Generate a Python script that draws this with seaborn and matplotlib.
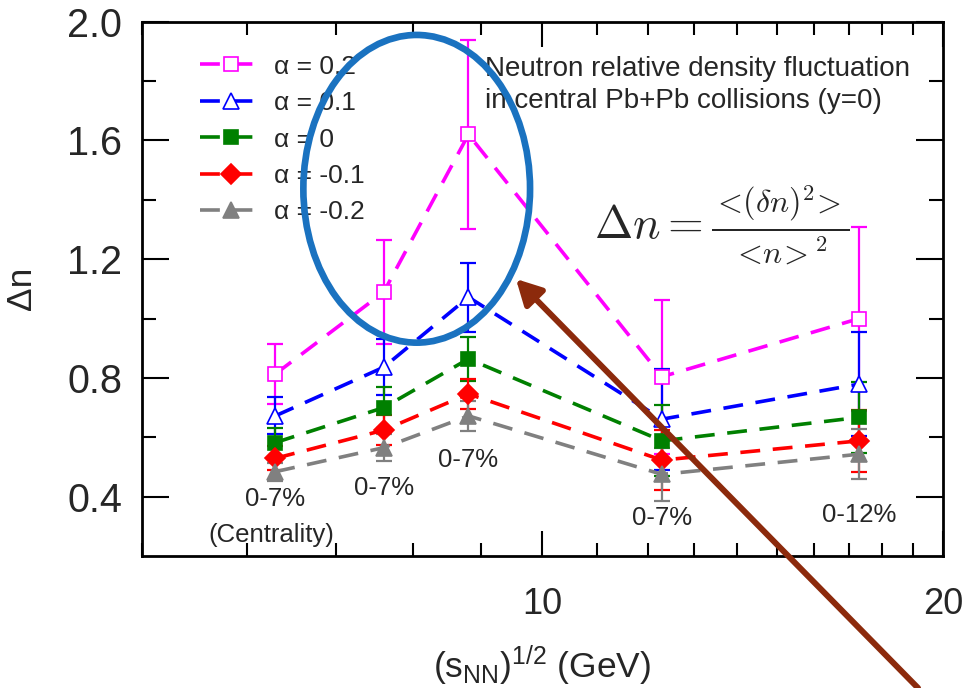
import matplotlib
matplotlib.use("Agg")
import matplotlib.pyplot as plt
import seaborn as sns
import numpy as np
import pandas as pd
from matplotlib.patches import Ellipse, FancyArrowPatch

# ---------------- data ----------------
energies = [6.3, 7.6, 8.8, 12.3, 17.3]          # sqrt(s_NN) in GeV
alpha_labels = ["α = 0.2", "α = 0.1", "α = 0", "α = -0.1", "α = -0.2"]
dn_a02 = [0.813, 1.089, 1.620, 0.804, 1.000]
dn_a01 = [0.672, 0.836, 1.072, 0.661, 0.779]
dn_a00 = [0.582, 0.700, 0.864, 0.588, 0.667]
dn_am01 = [0.529, 0.624, 0.746, 0.523, 0.588]
dn_am02 = [0.484, 0.565, 0.672, 0.475, 0.543]
err_a02 = [0.100, 0.175, 0.320, 0.260, 0.310]
err_a01 = [0.062, 0.095, 0.116, 0.170, 0.175]
err_a00 = [0.050, 0.068, 0.073, 0.120, 0.120]
err_am01 = [0.040, 0.050, 0.050, 0.102, 0.105]
err_am02 = [0.030, 0.045, 0.050, 0.090, 0.085]
centrality = ["0-7%", "0-7%", "0-7%", "0-7%", "0-12%"]
centrality_y = [0.392, 0.430, 0.523, 0.327, 0.338]
x_major = [10, 20]
x_minor = [5, 6, 7, 8, 9, 11, 12, 13, 14, 15, 16, 17, 18, 19]
y_major = [0.4, 0.8, 1.2, 1.6, 2.0]
y_minor = [0.6, 1.0, 1.4, 1.8]

series_vals = [dn_a02, dn_a01, dn_a00, dn_am01, dn_am02]
series_errs = [err_a02, err_a01, err_a00, err_am01, err_am02]
colors = ["#FF00FF", "#0000FF", "#008000", "#FF0000", "#808080"]
markers = ["s", "^", "s", "D", "^"]
faces = ["white", "white", "#008000", "#FF0000", "#808080"]
msizes = [10, 11, 10, 10, 11]

# ---------------- style ----------------
sns.set_theme(style="ticks")
plt.rcParams["font.family"] = ["Liberation Sans", "DejaVu Sans"]
plt.rcParams["mathtext.fontset"] = "custom"
plt.rcParams["mathtext.rm"] = "Liberation Sans"
plt.rcParams["mathtext.it"] = "Liberation Sans:italic"
plt.rcParams["mathtext.bf"] = "Liberation Sans:bold"

fig = plt.figure(figsize=(9.65, 6.88), dpi=100)
ax = fig.add_axes([141.7 / 965, 1 - 556 / 688, (943 - 141.7) / 965, (556 - 21.7) / 688])
ax.set_xscale("log")

for vals, errs, c, m, fc, ms, lab in zip(series_vals, series_errs, colors, markers,
                                          faces, msizes, alpha_labels):
    ax.errorbar(energies, vals, yerr=errs, fmt="none", ecolor=c, elinewidth=1.6,
                capsize=5.5, capthick=1.6, zorder=2)
    df = pd.DataFrame({"E": energies, "dn": vals})
    sns.lineplot(data=df, x="E", y="dn", ax=ax, color=c, linestyle=(0, (5.5, 3.5)),
                 linewidth=2.6, marker=m, markersize=ms, markerfacecolor=fc,
                 markeredgecolor=c, markeredgewidth=1.2, label=lab, zorder=3)

ax.set_xlim(5, 20)
ax.set_ylim(0.2, 2.0)
ax.set_xticks(x_major)
ax.set_xticklabels([str(v) for v in x_major])
ax.set_xticks(x_minor, minor=True)
ax.set_xticklabels([], minor=True)
ax.set_yticks(y_major)
ax.set_yticklabels([f"{v:.1f}" for v in y_major])
ax.set_yticks(y_minor, minor=True)

ax.tick_params(which="both", direction="in", top=True, right=True, width=1.5,
               color="black")
ax.tick_params(axis="x", which="major", length=18, pad=22, labelsize=26)
ax.tick_params(axis="x", which="minor", length=9.5)
ax.tick_params(axis="y", which="major", length=19.5, pad=14, labelsize=28.5)
ax.tick_params(axis="y", which="minor", length=10)
for s in ax.spines.values():
    s.set_linewidth(2.0)
    s.set_color("black")

ax.set_xlabel("(s$_{\\rm NN}$)$^{1/2}$ (GeV)", fontsize=25.5, labelpad=16)
ax.set_ylabel("Δn", fontsize=25.5, labelpad=21)

leg = ax.legend(loc="upper left", bbox_to_anchor=(0.06, 0.958), frameon=False,
                fontsize=19, handlelength=2.3, handletextpad=0.5, labelspacing=0.47,
                borderaxespad=0)

ax.text(0.428, 0.935, "Neutron relative density fluctuation\nin central Pb+Pb collisions (y=0)",
        transform=ax.transAxes, fontsize=20, ha="left", va="top", linespacing=1.3)
ax.text(0.565, 0.618,
        r"$\Delta n = \frac{{<}\!(\delta n)^2\!{>}}{{<}\!n\!{>}^2}$",
        transform=ax.transAxes, fontsize=33, ha="left", va="center", math_fontfamily="cm")

for xe, lab, yl in zip(energies, centrality, centrality_y):
    ax.text(xe, yl, lab, fontsize=18.5, ha="center", va="center")
ax.text(6.26, 0.271, "(Centrality)", fontsize=18.5, ha="center", va="center")

# overlay annotations (ellipse + arrow)
ell = Ellipse((416.7 / 965, 1 - 188.8 / 688), 226.7 / 965, 307.7 / 688,
              transform=fig.transFigure, fill=False, edgecolor="#1a72c0", linewidth=4.8,
              zorder=10)
fig.add_artist(ell)
arr = FancyArrowPatch((920 / 965, 1 - 690 / 688), (514 / 965, 1 - 277 / 688),
                      transform=fig.transFigure, arrowstyle="-|>,head_length=0.75,head_width=0.4",
                      mutation_scale=20, color="#8c2a0c", linewidth=4.3, zorder=10)
fig.add_artist(arr)

fig.savefig("out.png", dpi=100)
